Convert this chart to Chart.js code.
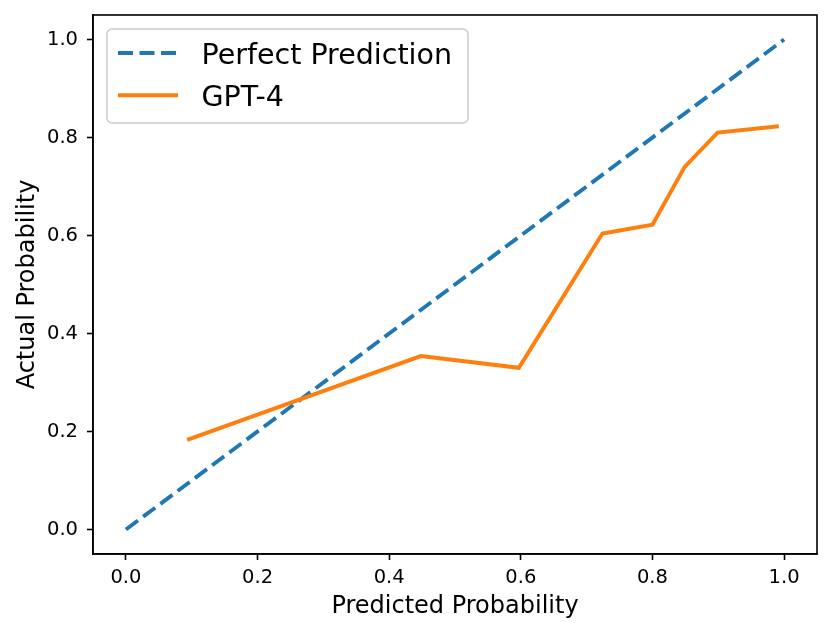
<!DOCTYPE html>
<html>
<head>
<meta charset="utf-8">
<script src="https://cdn.jsdelivr.net/npm/chart.js@4/dist/chart.umd.min.js"></script>
<style>
  html, body { margin: 0; padding: 0; background: #ffffff; }
  #c { display: block; }
</style>
</head>
<body>
<canvas id="c" width="831" height="634" style="width:831px;height:634px"></canvas>
<script>
// ---- data ----
const perfectX = [0.0, 1.0];
const perfectY = [0.0, 1.0];
const gptX = [0.093, 0.448, 0.597, 0.724, 0.800, 0.849, 0.899, 0.992];
const gptY = [0.183, 0.354, 0.330, 0.604, 0.622, 0.740, 0.810, 0.823];
const xTicks = [0.0, 0.2, 0.4, 0.6, 0.8, 1.0];
const yTicks = [0.0, 0.2, 0.4, 0.6, 0.8, 1.0];
const seriesLabels = ['Perfect Prediction', 'GPT-4'];
const xTitle = 'Predicted Probability';
const yTitle = 'Actual Probability';

const FONT = "'DejaVu Sans', 'Liberation Sans', sans-serif";
const BLUE = '#1f77b4';
const ORANGE = '#ff7f0e';

function pts(xs, ys) { return xs.map((x, i) => ({ x: x, y: ys[i] })); }

// frame around plot area (top/right spines)
const framePlugin = {
  id: 'frame',
  afterDraw(chart) {
    const { ctx, chartArea: a } = chart;
    ctx.save();
    ctx.strokeStyle = '#000000';
    ctx.lineWidth = 1.6;
    ctx.strokeRect(a.left, a.top, a.right - a.left, a.bottom - a.top);
    ctx.restore();
  }
};

// legend drawn inside the plot area (upper left)
const legendPlugin = {
  id: 'innerLegend',
  afterDraw(chart) {
    const ctx = chart.ctx;
    const bx = 107, by = 29, bw = 361, bh = 94, r = 5;
    ctx.save();
    ctx.beginPath();
    ctx.moveTo(bx + r, by);
    ctx.lineTo(bx + bw - r, by);
    ctx.arcTo(bx + bw, by, bx + bw, by + r, r);
    ctx.lineTo(bx + bw, by + bh - r);
    ctx.arcTo(bx + bw, by + bh, bx + bw - r, by + bh, r);
    ctx.lineTo(bx + r, by + bh);
    ctx.arcTo(bx, by + bh, bx, by + bh - r, r);
    ctx.lineTo(bx, by + r);
    ctx.arcTo(bx, by, bx + r, by, r);
    ctx.closePath();
    ctx.fillStyle = 'rgba(255,255,255,0.8)';
    ctx.fill();
    ctx.strokeStyle = '#cccccc';
    ctx.lineWidth = 1.5;
    ctx.stroke();

    const rows = [53, 95.3];
    chart.data.datasets.forEach((ds, i) => {
      const y = rows[i];
      ctx.beginPath();
      ctx.setLineDash(ds.borderDash || []);
      ctx.lineDashOffset = 0;
      ctx.strokeStyle = ds.borderColor;
      ctx.lineWidth = ds.borderWidth;
      ctx.lineCap = 'butt';
      ctx.moveTo(118, y);
      ctx.lineTo(178, y);
      ctx.stroke();
      ctx.setLineDash([]);
      ctx.fillStyle = '#000000';
      ctx.font = "28.5px " + FONT;
      ctx.textBaseline = 'alphabetic';
      ctx.textAlign = 'left';
      ctx.fillText(ds.label, 201.5, y + 10.8);
    });
    ctx.restore();
  }
};

const tickFmt = (v) => Number(v).toFixed(1);

new Chart(document.getElementById('c'), {
  type: 'scatter',
  data: {
    datasets: [
      {
        label: seriesLabels[0],
        data: pts(perfectX, perfectY),
        showLine: true,
        borderColor: BLUE,
        backgroundColor: BLUE,
        borderWidth: 3.9,
        borderDash: [15, 6.5],
        borderCapStyle: 'butt',
        pointRadius: 0,
        pointHoverRadius: 0,
        tension: 0,
        order: 1
      },
      {
        label: seriesLabels[1],
        data: pts(gptX, gptY),
        showLine: true,
        borderColor: ORANGE,
        backgroundColor: ORANGE,
        borderWidth: 3.9,
        borderCapStyle: 'butt',
        borderJoinStyle: 'miter',
        pointRadius: 0,
        pointHoverRadius: 0,
        tension: 0,
        order: 0
      }
    ]
  },
  options: {
    responsive: false,
    animation: false,
    devicePixelRatio: 1,
    layout: { padding: { left: 0, top: 15, right: 14, bottom: 0 } },
    plugins: {
      legend: { display: false },
      tooltip: { enabled: false },
      title: { display: false }
    },
    scales: {
      x: {
        type: 'linear',
        position: 'bottom',
        min: -0.05,
        max: 1.05,
        afterBuildTicks: (axis) => { axis.ticks = xTicks.map(v => ({ value: v })); },
        afterFit: (scale) => { scale.height = 80; scale.paddingLeft = 0; scale.paddingRight = 0; },
        ticks: {
          callback: tickFmt,
          color: '#000000',
          font: { family: FONT, size: 19.5 },
          padding: 6,
          maxRotation: 0,
          autoSkip: false
        },
        grid: {
          display: true,
          drawOnChartArea: false,
          drawTicks: true,
          tickLength: 6,
          tickWidth: 1.6,
          tickColor: '#000000'
        },
        border: { display: true, color: '#000000', width: 1.6 },
        title: {
          display: true,
          text: xTitle,
          color: '#000000',
          font: { family: FONT, size: 24, lineHeight: 1.2 },
          padding: { top: 0, bottom: 12.6 }
        }
      },
      y: {
        type: 'linear',
        position: 'left',
        min: -0.05,
        max: 1.05,
        afterBuildTicks: (axis) => { axis.ticks = yTicks.map(v => ({ value: v })); },
        afterFit: (scale) => { scale.width = 93; scale.paddingTop = 0; scale.paddingBottom = 0; },
        ticks: {
          callback: tickFmt,
          color: '#000000',
          font: { family: FONT, size: 19.5 },
          padding: 9,
          autoSkip: false
        },
        grid: {
          display: true,
          drawOnChartArea: false,
          drawTicks: true,
          tickLength: 6,
          tickWidth: 1.6,
          tickColor: '#000000'
        },
        border: { display: true, color: '#000000', width: 1.6 },
        title: {
          display: true,
          text: yTitle,
          color: '#000000',
          font: { family: FONT, size: 24, lineHeight: 1.2 },
          padding: { top: 13, bottom: 0 }
        }
      }
    }
  },
  plugins: [framePlugin, legendPlugin]
});
</script>
</body>
</html>
